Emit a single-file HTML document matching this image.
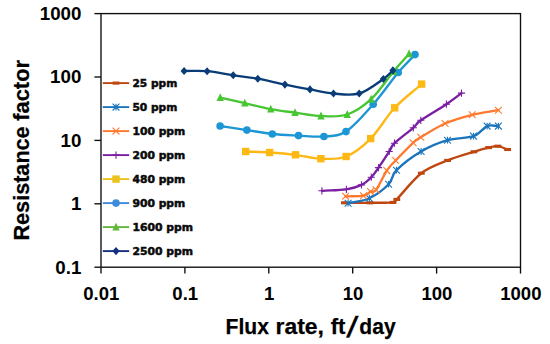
<!DOCTYPE html>
<html lang="en"><head><meta charset="utf-8"><title>Resistance factor vs flux rate</title>
<style>html,body{margin:0;padding:0;background:#fff;}body{width:550px;height:344px;overflow:hidden;}svg{display:block;}.tk{font-family:"Liberation Sans",sans-serif;font-weight:bold;font-size:17.7px;fill:#000;}.ti{font-family:"Liberation Sans",sans-serif;font-weight:bold;font-size:22.8px;fill:#000;stroke:#000;stroke-width:0.25px;}.lg{font-family:"DejaVu Sans","Liberation Sans",sans-serif;font-weight:bold;font-size:10.7px;fill:#0a0a0a;stroke:#0a0a0a;stroke-width:0.5px;}</style></head><body>
<svg width="550" height="344" viewBox="0 0 550 344">
<rect width="550" height="344" fill="#fff"/>
<g stroke="#0d0d0d" stroke-width="1.35" fill="none">
<rect x="101" y="13.6" width="419.5" height="253.6"/>
<path d="M94.4,13.6 H101"/>
<path d="M94.4,77 H101"/>
<path d="M94.4,140.4 H101"/>
<path d="M94.4,203.8 H101"/>
<path d="M94.4,267.2 H101"/>
<path d="M101,267.2 V273.6"/>
<path d="M184.9,267.2 V273.6"/>
<path d="M268.8,267.2 V273.6"/>
<path d="M352.7,267.2 V273.6"/>
<path d="M436.6,267.2 V273.6"/>
<path d="M520.5,267.2 V273.6"/>
</g>
<text class="tk" transform="translate(81.4,20) scale(1.06,1)" text-anchor="end">1000</text>
<text class="tk" transform="translate(81.4,83.4) scale(1.06,1)" text-anchor="end">100</text>
<text class="tk" transform="translate(81.4,146.8) scale(1.06,1)" text-anchor="end">10</text>
<text class="tk" transform="translate(81.4,210.2) scale(1.06,1)" text-anchor="end">1</text>
<text class="tk" transform="translate(81.4,273.6) scale(1.06,1)" text-anchor="end">0.1</text>
<text class="tk" transform="translate(101.3,300) scale(1.05,1)" text-anchor="middle">0.01</text>
<text class="tk" transform="translate(185.2,300) scale(1.05,1)" text-anchor="middle">0.1</text>
<text class="tk" transform="translate(269.1,300) scale(1.05,1)" text-anchor="middle">1</text>
<text class="tk" transform="translate(353,300) scale(1.05,1)" text-anchor="middle">10</text>
<text class="tk" transform="translate(436.9,300) scale(1.05,1)" text-anchor="middle">100</text>
<text class="tk" transform="translate(520.8,300) scale(1.05,1)" text-anchor="middle">1000</text>
<g class="ti">
<text x="225.54" y="333.7" textLength="43.36" lengthAdjust="spacingAndGlyphs">Flux</text>
<text x="275.55" y="333.7" textLength="48.43" lengthAdjust="spacingAndGlyphs">rate,</text>
<text x="330.65" y="333.7" textLength="14.78" lengthAdjust="spacingAndGlyphs">ft</text>
<text x="359.37" y="333.7" textLength="36.28" lengthAdjust="spacingAndGlyphs">day</text>
<text transform="translate(349.6,337.4) skewX(-14.7) scale(1.15,1.27)" text-anchor="middle">/</text>
</g>
<g class="ti" transform="translate(28.95,0) rotate(-90)">
<text x="-240.52" y="0" textLength="114.16" lengthAdjust="spacingAndGlyphs">Resistance</text>
<text x="-120.76" y="0" textLength="60.76" lengthAdjust="spacingAndGlyphs">factor</text>
</g>
<g>
<path d="M344.4,202.8C352.93,202.8 361.9,202.87 370,202.8C378.1,202.73 388.53,202.97 393,202.4C397.47,201.83 392.08,204.27 396.8,199.4C401.52,194.53 412.83,179.7 421.3,173.2C429.77,166.7 438.83,163.97 447.6,160.4C456.37,156.83 467.07,153.93 473.9,151.8C480.73,149.67 484.6,148.53 488.6,147.6C492.6,146.67 494.73,145.88 497.9,146.2C501.07,146.52 504.37,148.4 507.6,149.5" fill="none" stroke="#BF470F" stroke-width="2.35" stroke-linecap="round" stroke-linejoin="round"/>
<rect x="341" y="201.25" width="6.8" height="3.1" fill="#BF470F"/>
<rect x="366.6" y="201.25" width="6.8" height="3.1" fill="#BF470F"/>
<rect x="389.6" y="200.85" width="6.8" height="3.1" fill="#BF470F"/>
<rect x="393.4" y="197.85" width="6.8" height="3.1" fill="#BF470F"/>
<rect x="417.9" y="171.65" width="6.8" height="3.1" fill="#BF470F"/>
<rect x="444.2" y="158.85" width="6.8" height="3.1" fill="#BF470F"/>
<rect x="470.5" y="150.25" width="6.8" height="3.1" fill="#BF470F"/>
<rect x="485.2" y="146.05" width="6.8" height="3.1" fill="#BF470F"/>
<rect x="494.5" y="144.65" width="6.8" height="3.1" fill="#BF470F"/>
<rect x="504.2" y="147.95" width="6.8" height="3.1" fill="#BF470F"/>
</g>
<g>
<path d="M348.1,203.2C355.2,201.53 362.65,201.37 369.4,198.2C376.15,195.03 384.08,188.87 388.6,184.2C393.12,179.53 391.08,175.65 396.5,170.2C401.92,164.75 412.6,156.5 421.1,151.5C429.6,146.5 438.77,142.77 447.5,140.2C456.23,137.63 466.9,138.45 473.5,136.1C480.1,133.75 482.95,127.77 487.1,126.1C491.25,124.43 494.63,126.1 498.4,126.1" fill="none" stroke="#1B75BC" stroke-width="2.35" stroke-linecap="round" stroke-linejoin="round"/>
<path d="M344.7,199.8 L351.5,206.6 M344.7,206.6 L351.5,199.8 M348.1,199.8 V206.6" stroke="#1B75BC" stroke-width="1.1" fill="none"/>
<path d="M366,194.8 L372.8,201.6 M366,201.6 L372.8,194.8 M369.4,194.8 V201.6" stroke="#1B75BC" stroke-width="1.1" fill="none"/>
<path d="M385.2,180.8 L392,187.6 M385.2,187.6 L392,180.8 M388.6,180.8 V187.6" stroke="#1B75BC" stroke-width="1.1" fill="none"/>
<path d="M393.1,166.8 L399.9,173.6 M393.1,173.6 L399.9,166.8 M396.5,166.8 V173.6" stroke="#1B75BC" stroke-width="1.1" fill="none"/>
<path d="M417.7,148.1 L424.5,154.9 M417.7,154.9 L424.5,148.1 M421.1,148.1 V154.9" stroke="#1B75BC" stroke-width="1.1" fill="none"/>
<path d="M444.1,136.8 L450.9,143.6 M444.1,143.6 L450.9,136.8 M447.5,136.8 V143.6" stroke="#1B75BC" stroke-width="1.1" fill="none"/>
<path d="M470.1,132.7 L476.9,139.5 M470.1,139.5 L476.9,132.7 M473.5,132.7 V139.5" stroke="#1B75BC" stroke-width="1.1" fill="none"/>
<path d="M483.7,122.7 L490.5,129.5 M483.7,129.5 L490.5,122.7 M487.1,122.7 V129.5" stroke="#1B75BC" stroke-width="1.1" fill="none"/>
<path d="M495,122.7 L501.8,129.5 M495,129.5 L501.8,122.7 M498.4,122.7 V129.5" stroke="#1B75BC" stroke-width="1.1" fill="none"/>
</g>
<g>
<path d="M345.6,196.3C351.57,196.1 359.35,196.48 363.5,195.7C367.65,194.92 368.38,192.58 370.5,191.6C372.62,190.62 373.48,193.3 376.2,189.8C378.92,186.3 383.57,175.48 386.8,170.6C390.03,165.72 391.22,165.13 395.6,160.5C399.98,155.87 408.9,146.67 413.1,142.8C417.3,138.93 415.47,140.52 420.8,137.3C426.13,134.08 436.53,127.25 445.1,123.5C453.67,119.75 463.32,117.02 472.2,114.8C481.08,112.58 489.67,111.73 498.4,110.2" fill="none" stroke="#FF7A2F" stroke-width="2.35" stroke-linecap="round" stroke-linejoin="round"/>
<path d="M342.2,192.9 L349,199.7 M342.2,199.7 L349,192.9" stroke="#FF7A2F" stroke-width="1.1" fill="none"/>
<path d="M360.1,192.3 L366.9,199.1 M360.1,199.1 L366.9,192.3" stroke="#FF7A2F" stroke-width="1.1" fill="none"/>
<path d="M367.1,188.2 L373.9,195 M367.1,195 L373.9,188.2" stroke="#FF7A2F" stroke-width="1.1" fill="none"/>
<path d="M372.8,186.4 L379.6,193.2 M372.8,193.2 L379.6,186.4" stroke="#FF7A2F" stroke-width="1.1" fill="none"/>
<path d="M383.4,167.2 L390.2,174 M383.4,174 L390.2,167.2" stroke="#FF7A2F" stroke-width="1.1" fill="none"/>
<path d="M392.2,157.1 L399,163.9 M392.2,163.9 L399,157.1" stroke="#FF7A2F" stroke-width="1.1" fill="none"/>
<path d="M409.7,139.4 L416.5,146.2 M409.7,146.2 L416.5,139.4" stroke="#FF7A2F" stroke-width="1.1" fill="none"/>
<path d="M417.4,133.9 L424.2,140.7 M417.4,140.7 L424.2,133.9" stroke="#FF7A2F" stroke-width="1.1" fill="none"/>
<path d="M441.7,120.1 L448.5,126.9 M441.7,126.9 L448.5,120.1" stroke="#FF7A2F" stroke-width="1.1" fill="none"/>
<path d="M468.8,111.4 L475.6,118.2 M468.8,118.2 L475.6,111.4" stroke="#FF7A2F" stroke-width="1.1" fill="none"/>
<path d="M495,106.8 L501.8,113.6 M495,113.6 L501.8,106.8" stroke="#FF7A2F" stroke-width="1.1" fill="none"/>
</g>
<g>
<path d="M321.9,190.8C330.07,190.3 339.8,190.28 346.4,189.3C353,188.32 357.35,186.92 361.5,184.9C365.65,182.88 368.47,180.08 371.3,177.2C374.13,174.32 375.52,171.88 378.5,167.6C381.48,163.32 386.53,155.57 389.2,151.5C391.87,147.43 390.48,147.15 394.5,143.2C398.52,139.25 408.92,131.62 413.3,127.8C417.68,123.98 415.28,124.23 420.8,120.3C426.32,116.37 439.62,108.73 446.4,104.2C453.18,99.67 456.47,96.8 461.5,93.1" fill="none" stroke="#7A1FA2" stroke-width="2.35" stroke-linecap="round" stroke-linejoin="round"/>
<path d="M321.9,187.2 V194.4 M318.3,190.8 H325.5" stroke="#7A1FA2" stroke-width="1.1" fill="none"/>
<path d="M346.4,185.7 V192.9 M342.8,189.3 H350" stroke="#7A1FA2" stroke-width="1.1" fill="none"/>
<path d="M361.5,181.3 V188.5 M357.9,184.9 H365.1" stroke="#7A1FA2" stroke-width="1.1" fill="none"/>
<path d="M371.3,173.6 V180.8 M367.7,177.2 H374.9" stroke="#7A1FA2" stroke-width="1.1" fill="none"/>
<path d="M378.5,164 V171.2 M374.9,167.6 H382.1" stroke="#7A1FA2" stroke-width="1.1" fill="none"/>
<path d="M389.2,147.9 V155.1 M385.6,151.5 H392.8" stroke="#7A1FA2" stroke-width="1.1" fill="none"/>
<path d="M394.5,139.6 V146.8 M390.9,143.2 H398.1" stroke="#7A1FA2" stroke-width="1.1" fill="none"/>
<path d="M413.3,124.2 V131.4 M409.7,127.8 H416.9" stroke="#7A1FA2" stroke-width="1.1" fill="none"/>
<path d="M420.8,116.7 V123.9 M417.2,120.3 H424.4" stroke="#7A1FA2" stroke-width="1.1" fill="none"/>
<path d="M446.4,100.6 V107.8 M442.8,104.2 H450" stroke="#7A1FA2" stroke-width="1.1" fill="none"/>
<path d="M461.5,89.5 V96.7 M457.9,93.1 H465.1" stroke="#7A1FA2" stroke-width="1.1" fill="none"/>
</g>
<g>
<path d="M245.7,151.5C253.67,151.83 261.3,151.95 269.6,152.5C277.9,153.05 286.95,153.77 295.5,154.8C304.05,155.83 312.47,158.42 320.9,158.7C329.33,158.98 337.8,159.85 346.1,156.5C354.4,153.15 362.6,146.72 370.7,138.6C378.8,130.48 386.22,116.88 394.7,107.8C403.18,98.72 412.63,92 421.6,84.1" fill="none" stroke="#FDB813" stroke-width="2.35" stroke-linecap="round" stroke-linejoin="round"/>
<rect x="242" y="147.8" width="7.4" height="7.4" fill="#FDB813"/>
<rect x="265.9" y="148.8" width="7.4" height="7.4" fill="#FDB813"/>
<rect x="291.8" y="151.1" width="7.4" height="7.4" fill="#FDB813"/>
<rect x="317.2" y="155" width="7.4" height="7.4" fill="#FDB813"/>
<rect x="342.4" y="152.8" width="7.4" height="7.4" fill="#FDB813"/>
<rect x="367" y="134.9" width="7.4" height="7.4" fill="#FDB813"/>
<rect x="391" y="104.1" width="7.4" height="7.4" fill="#FDB813"/>
<rect x="417.9" y="80.4" width="7.4" height="7.4" fill="#FDB813"/>
</g>
<g>
<path d="M220.1,126C229.03,127.37 238.2,128.77 246.9,130.1C255.6,131.43 263.7,133.08 272.3,134C280.9,134.92 289.9,135.18 298.5,135.6C307.1,136.02 315.98,137.17 323.9,136.5C331.82,135.83 337.78,136.97 346,131.6C354.22,126.23 364.5,114.15 373.2,104.3C381.9,94.45 391.23,80.78 398.2,72.5C405.17,64.22 409.4,60.57 415,54.6" fill="none" stroke="#1C96D4" stroke-width="2.35" stroke-linecap="round" stroke-linejoin="round"/>
<circle cx="220.1" cy="126" r="3.8" fill="#1C96D4"/>
<circle cx="246.9" cy="130.1" r="3.8" fill="#1C96D4"/>
<circle cx="272.3" cy="134" r="3.8" fill="#1C96D4"/>
<circle cx="298.5" cy="135.6" r="3.8" fill="#1C96D4"/>
<circle cx="323.9" cy="136.5" r="3.8" fill="#1C96D4"/>
<circle cx="346" cy="131.6" r="3.8" fill="#1C96D4"/>
<circle cx="373.2" cy="104.3" r="3.8" fill="#1C96D4"/>
<circle cx="398.2" cy="72.5" r="3.8" fill="#1C96D4"/>
<circle cx="415" cy="54.6" r="3.8" fill="#1C96D4"/>
</g>
<g>
<path d="M220.2,97.6C228.4,99.43 236.37,101.18 244.8,103.1C253.23,105.02 262.43,107.52 270.8,109.1C279.17,110.68 286.63,111.45 295,112.6C303.37,113.75 312.3,115.68 321,116C329.7,116.32 338.85,117.3 347.2,114.5C355.55,111.7 363.38,106.37 371.1,99.2C378.82,92.03 387.17,79.08 393.5,71.5C399.83,63.92 403.9,59.63 409.1,53.7" fill="none" stroke="#47C533" stroke-width="2.35" stroke-linecap="round" stroke-linejoin="round"/>
<path d="M220.2,93.2 L223.9,101.1 L216.5,101.1Z" fill="#47C533"/>
<path d="M244.8,98.7 L248.5,106.6 L241.1,106.6Z" fill="#47C533"/>
<path d="M270.8,104.7 L274.5,112.6 L267.1,112.6Z" fill="#47C533"/>
<path d="M295,108.2 L298.7,116.1 L291.3,116.1Z" fill="#47C533"/>
<path d="M321,111.6 L324.7,119.5 L317.3,119.5Z" fill="#47C533"/>
<path d="M347.2,110.1 L350.9,118 L343.5,118Z" fill="#47C533"/>
<path d="M371.1,94.8 L374.8,102.7 L367.4,102.7Z" fill="#47C533"/>
<path d="M393.5,67.1 L397.2,75 L389.8,75Z" fill="#47C533"/>
<path d="M409.1,49.3 L412.8,57.2 L405.4,57.2Z" fill="#47C533"/>
</g>
<g>
<path d="M184.1,71C191.77,71.07 198.92,70.48 207.1,71.2C215.28,71.92 224.75,74.05 233.2,75.3C241.65,76.55 249.18,77.15 257.8,78.7C266.42,80.25 276.2,82.82 284.9,84.6C293.6,86.38 301.9,87.92 310,89.4C318.1,90.88 325.3,92.82 333.5,93.5C341.7,94.18 350.9,95.92 359.2,93.5C367.5,91.08 377.68,82.85 383.3,79C388.92,75.15 389.7,73.27 392.9,70.4" fill="none" stroke="#0A3C78" stroke-width="2.35" stroke-linecap="round" stroke-linejoin="round"/>
<path d="M184.1,66.95 L187.65,71 L184.1,75.05 L180.55,71Z" fill="#0A3C78"/>
<path d="M207.1,67.15 L210.65,71.2 L207.1,75.25 L203.55,71.2Z" fill="#0A3C78"/>
<path d="M233.2,71.25 L236.75,75.3 L233.2,79.35 L229.65,75.3Z" fill="#0A3C78"/>
<path d="M257.8,74.65 L261.35,78.7 L257.8,82.75 L254.25,78.7Z" fill="#0A3C78"/>
<path d="M284.9,80.55 L288.45,84.6 L284.9,88.65 L281.35,84.6Z" fill="#0A3C78"/>
<path d="M310,85.35 L313.55,89.4 L310,93.45 L306.45,89.4Z" fill="#0A3C78"/>
<path d="M333.5,89.45 L337.05,93.5 L333.5,97.55 L329.95,93.5Z" fill="#0A3C78"/>
<path d="M359.2,89.45 L362.75,93.5 L359.2,97.55 L355.65,93.5Z" fill="#0A3C78"/>
<path d="M383.3,74.95 L386.85,79 L383.3,83.05 L379.75,79Z" fill="#0A3C78"/>
<path d="M392.9,66.35 L396.45,70.4 L392.9,74.45 L389.35,70.4Z" fill="#0A3C78"/>
</g>
<path d="M102.8,83.1 H129.2" stroke="#BF470F" stroke-width="1.9" fill="none"/>
<rect x="112.6" y="81.55" width="6.8" height="3.1" fill="#BF470F"/>
<text class="lg" x="132.4" y="87.2" textLength="44.9" lengthAdjust="spacingAndGlyphs">25 ppm</text>
<path d="M102.8,107.1 H129.2" stroke="#1B75BC" stroke-width="1.9" fill="none"/>
<path d="M112.6,103.7 L119.4,110.5 M112.6,110.5 L119.4,103.7 M116,103.7 V110.5" stroke="#1B75BC" stroke-width="1.1" fill="none"/>
<text class="lg" x="132.4" y="111.2" textLength="44.9" lengthAdjust="spacingAndGlyphs">50 ppm</text>
<path d="M102.8,131.1 H129.2" stroke="#FF7A2F" stroke-width="1.9" fill="none"/>
<path d="M112.6,127.7 L119.4,134.5 M112.6,134.5 L119.4,127.7" stroke="#FF7A2F" stroke-width="1.1" fill="none"/>
<text class="lg" x="132.4" y="135.2" textLength="52.9" lengthAdjust="spacingAndGlyphs">100 ppm</text>
<path d="M102.8,155.1 H129.2" stroke="#7A1FA2" stroke-width="1.9" fill="none"/>
<path d="M116,151.5 V158.7 M112.4,155.1 H119.6" stroke="#7A1FA2" stroke-width="1.1" fill="none"/>
<text class="lg" x="132.4" y="159.2" textLength="52.9" lengthAdjust="spacingAndGlyphs">200 ppm</text>
<path d="M102.8,179.1 H129.2" stroke="#EBC21C" stroke-width="1.9" fill="none"/>
<rect x="112.3" y="175.4" width="7.4" height="7.4" fill="#EBC21C"/>
<text class="lg" x="132.4" y="183.2" textLength="52.9" lengthAdjust="spacingAndGlyphs">480 ppm</text>
<path d="M102.8,203.1 H129.2" stroke="#3F8ADB" stroke-width="1.9" fill="none"/>
<circle cx="116" cy="203.1" r="3.8" fill="#3F8ADB"/>
<text class="lg" x="132.4" y="207.2" textLength="52.9" lengthAdjust="spacingAndGlyphs">900 ppm</text>
<path d="M102.8,227.1 H129.2" stroke="#63B83C" stroke-width="1.9" fill="none"/>
<path d="M116,222.7 L119.7,230.6 L112.3,230.6Z" fill="#63B83C"/>
<text class="lg" x="132.4" y="231.2" textLength="60.6" lengthAdjust="spacingAndGlyphs">1600 ppm</text>
<path d="M102.8,251.1 H129.2" stroke="#15307E" stroke-width="1.9" fill="none"/>
<path d="M116,247.05 L119.55,251.1 L116,255.15 L112.45,251.1Z" fill="#15307E"/>
<text class="lg" x="132.4" y="255.2" textLength="60.6" lengthAdjust="spacingAndGlyphs">2500 ppm</text>
</svg></body></html>
